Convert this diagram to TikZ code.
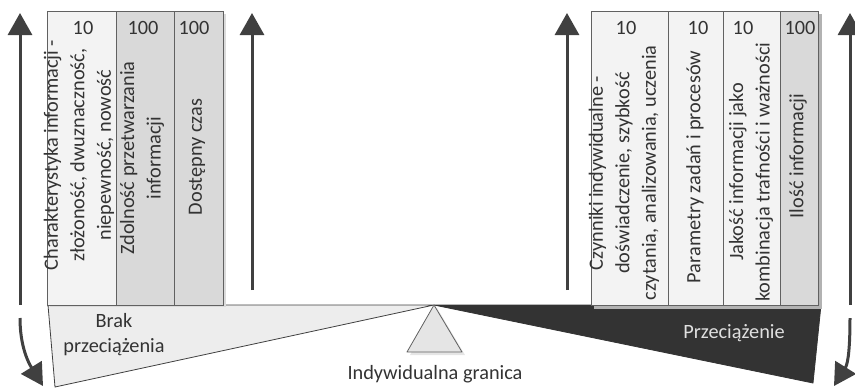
\documentclass[tikz,border=0pt]{standalone}
\usepackage{fontspec}
\setmainfont{Carlito}
\usetikzlibrary{arrows.meta}
\definecolor{ink}{HTML}{404040}
\definecolor{textgrey}{HTML}{333333}
\definecolor{paleFill}{HTML}{F3F3F3}
\definecolor{midFill}{HTML}{D9D9D9}
\definecolor{wedgeLight}{HTML}{EDEDED}
\definecolor{wedgeDark}{HTML}{333333}
\begin{document}
\begin{tikzpicture}[x=1pt,y=1pt,
  colbox/.style={draw=black!62, line width=0.8pt, inner sep=0pt, anchor=north west, minimum height=294pt},
  palecol/.style={colbox, fill=paleFill},
  midcol/.style={colbox, fill=midFill},
  vlabel/.style={rotate=90, align=center, inner sep=0pt, text=textgrey,
    font=\fontsize{20.3}{26.5}\selectfont},
  numlabel/.style={inner sep=0pt, text=textgrey, font=\fontsize{20.3}{24}\selectfont},
  plainlabel/.style={align=center, inner sep=0pt, text=textgrey, font=\fontsize{20.3}{25}\selectfont},
  bigarrow/.style={draw=ink, line width=3pt, -{Triangle[width=24pt,length=22pt]}},
]
\useasboundingbox (0,0) rectangle (855,-389);

% ---- lever: light and dark wedges meeting at the pivot ----
\coordinate (pivot) at (434,-305);
\coordinate (lTop) at (48,-305);
\coordinate (lBot) at (55,-387);
\coordinate (rTop) at (821,-305);
\coordinate (rBot) at (813,-383);
\fill[wedgeLight, draw=ink, line width=0.8pt, line join=round]
  (lTop) -- (pivot) -- (lBot) -- cycle;
\fill[wedgeDark, draw=wedgeDark, line width=0.8pt, line join=round]
  (pivot) -- (rTop) -- (rBot) -- cycle;

% ---- pivot triangle with soft shadow ----
\coordinate (fBase1) at (407,-352);
\coordinate (fBase2) at (462,-352);
\fill[black!10] ([shift={(3,-3)}]pivot) -- ([shift={(3,-3)}]fBase2) -- ([shift={(3,-3)}]fBase1) -- cycle;
\filldraw[fill=black!10, draw=black!62, line width=0.8pt, line join=round]
  (pivot) -- (fBase2) -- (fBase1) -- cycle;
\node[plainlabel] (limit) at (435,-374) {Indywidualna granica};

% ---- lever labels ----
\node[plainlabel] (noload) at (114,-335) {Brak\\przeciążenia};
\node[plainlabel, text=black!12] (overload) at (734,-333) {Przeciążenie};

% ---- shadows behind the column groups ----
\fill[black!14] (50,-14) rectangle (226,-307);
\fill[black!30] (594,-14) rectangle (822,-309);

% ---- left group of columns ----
\node[palecol, minimum width=69pt] (c1) at (47,-11) {};
\node[midcol,  minimum width=58pt] (c2) at (116,-11) {};
\node[midcol,  minimum width=49pt] (c3) at (174,-11) {};

\node[numlabel] (n1) at (83,-28) {10};
\node[numlabel] (n2) at (143,-28) {100};
\node[numlabel] (n3) at (194,-28) {100};

\node[vlabel] (t1) at (79,-155) {Charakterystyka informacji -\\złożoność, dwuznaczność,\\niepewność, nowość};
\node[vlabel] (t2) at (142,-158) {Zdolność przetwarzania\\informacji};
\node[vlabel] (t3) at (197,-157) {Dostępny czas};

% ---- right group of columns ----
\node[palecol, minimum width=77pt] (r1) at (591,-11) {};
\node[palecol, minimum width=55pt] (r2) at (668,-11) {};
\node[palecol, minimum width=57pt] (r3) at (723,-11) {};
\node[midcol,  minimum width=38pt] (r4) at (780,-11) {};

\node[numlabel] (m1) at (626,-28) {10};
\node[numlabel] (m2) at (698,-28) {10};
\node[numlabel] (m3) at (743,-28) {10};
\node[numlabel] (m4) at (800,-28) {100};

\node[vlabel] (s1) at (624,-173) {Czynniki indywidualne -\\doświadczenie, szybkość\\czytania, analizowania, uczenia};
\node[vlabel] (s2) at (695,-167) {Parametry zadań i procesów};
\node[vlabel] (s3) at (751,-172) {Jakość informacji jako\\kombinacja trafności i ważności};
\node[vlabel] (s4) at (798,-156) {Ilość informacji};

% ---- arrows ----
\coordinate (a1s) at (20,-305);  \coordinate (a1e) at (20,-13);
\coordinate (a1c) at (20,-318);  \coordinate (a1t) at (43,-386);
\coordinate (a2s) at (252,-290); \coordinate (a2e) at (252,-13);
\coordinate (a3s) at (567,-290); \coordinate (a3e) at (567,-13);
\coordinate (a4s) at (850,-305); \coordinate (a4e) at (850,-13);
\coordinate (a4c) at (850,-318); \coordinate (a4t) at (834,-386);

\draw[bigarrow] (a1s) -- (a1e);
\draw[bigarrow] (a2s) -- (a2e);
\draw[bigarrow] (a3s) -- (a3e);
\draw[bigarrow] (a4s) -- (a4e);
\draw[bigarrow] (a1c) to[out=-90, in=122] (a1t);
\draw[bigarrow] (a4c) to[out=-90, in=58] (a4t);
\end{tikzpicture}
\end{document}
